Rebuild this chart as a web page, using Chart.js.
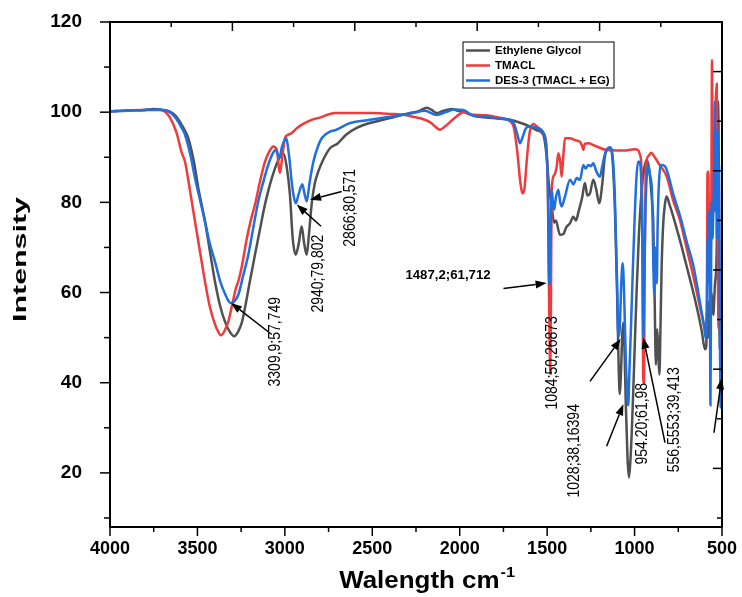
<!DOCTYPE html>
<html>
<head>
<meta charset="utf-8">
<script src="https://cdn.jsdelivr.net/npm/chart.js@4.4.1/dist/chart.umd.min.js"></script>
<style>
  html, body { margin: 0; padding: 0; background: #fff; }
  #wrap { width: 742px; height: 597px; position: relative; }
</style>
</head>
<body>
<div id="wrap"><canvas id="ftir"></canvas></div>
<script>
const FONT = '"Liberation Sans", Arial, Helvetica, sans-serif';

// Ethylene Glycol
const egWave = [4000,3900,3800,3750,3700,3660,3620,3580,3552,3520,3495,3457,3430,3400,3370,3343,3310,3289,3265,3245,3228,3200,3171,3140,3114,3085,3056,3030,3009,2990,2971,2955,2938,2920,2904,2890,2875,2862,2847,2830,2809,2780,2742,2700,2650,2589,2513,2450,2399,2340,2284,2230,2189,2160,2132,2100,2046,2010,1979,1922,1850,1780,1712,1650,1598,1560,1522,1503,1490,1474,1460,1450,1427,1407,1390,1369,1350,1335,1320,1300,1284,1270,1255,1236,1220,1202,1185,1170,1155,1140,1125,1112,1100,1090,1084,1078,1070,1064,1058,1050,1040,1032,1025,1015,1000,988,975,959,945,931,915,900,893,885,878,874,870,864,858,852,845,836,825,817,800,780,740,700,664,640,616,597,590,585,580,575,570,560,550,540,530,525,520,515,510,505,500];
const egInt  = [100.2,100.4,100.5,100.7,100.5,100.2,99,96.5,94.2,89,83.2,75.8,69.5,62.5,57,53.6,51,50.3,51.5,53.5,56.6,62.5,68.4,74.5,79.5,84,87.6,90,90.9,88,81.7,72,68.4,71,74.7,71,68.4,73,79.5,84,86.8,89.5,92,93,95,96.5,97.6,98.2,98.7,99.3,99.8,100.3,101,100.5,99.8,100.2,100.7,100.3,100.1,99.2,98.8,98.6,98.3,97.6,96.8,96,95,90.2,84,79.1,75.5,76,72.8,73,74.5,75.4,76.8,76,78,81,84.3,81.5,82,85,83,79.8,84,90.2,91.8,92,89,78,60,42,37.5,42,51,53.3,48,35,23,19,22,30,47,60.6,73,82.8,87.5,89.4,87,80,75.4,58,44,50,51.8,46,41.8,52,66,75.4,80,81.3,79.5,77,71.5,65.5,60,56,51.5,47.4,48,56,50,58,52,60,55,62,70,102.4,98,55,47,52,48];

// TMACL
const tmWave = [4000,3900,3800,3720,3690,3660,3620,3590,3571,3540,3514,3485,3457,3430,3400,3380,3365,3345,3323,3300,3280,3266,3245,3220,3195,3171,3140,3114,3090,3066,3045,3035,3028,3015,2999,2980,2961,2930,2900,2847,2800,2713,2600,2500,2399,2330,2267,2220,2170,2140,2113,2085,2056,2020,1979,1940,1850,1780,1712,1690,1670,1655,1640,1630,1615,1600,1579,1550,1523,1505,1495,1490,1486,1482,1478,1474,1460,1445,1436,1425,1417,1408,1398,1370,1340,1312,1300,1293,1285,1265,1230,1160,1100,1050,1000,980,969,958,954,950,946,943,935,920,905,893,860,816,780,740,700,664,630,607,597,590,586,583,578,575,570,566,561,557,554,549,544,540,535,530,527,523,519,514,508,504,500];
const tmInt  = [100.2,100.4,100.5,100.5,100.2,99,95.5,91,89,82,75.8,69,62.5,57,53,51.2,50.5,51.5,53.6,57.5,61,62.5,66,71.5,76,79.5,85,89,91.2,92.4,91.5,88,86.5,90,94.3,95,95.4,96.5,97.3,98.3,98.8,99.8,99.8,99.8,99.6,99.5,99,98.6,97.8,96.8,96.1,96.8,97.8,99,100,99.5,99.3,98.8,98,96.5,91,85,82,83,90,95.5,97.4,96.5,95.4,93,80,62,50,42,60,82.8,86,88,90.9,89,85.7,90,94.2,94.2,93.8,93.4,92.5,91.6,93,93.1,92.6,91.6,91.5,91.5,91.8,91.6,90.6,85,62,40,40,60,88,90.3,91,90.5,88.5,85.7,80.5,76,69.5,63.6,57.5,53.3,51.5,50.5,62,86.8,86.8,77,80,72,82,111.6,76,82,88,96,103,106.3,90,62,52,58,50,55,50];

// DES-3 (TMACL + EG)
const desWave = [4000,3900,3800,3720,3680,3657,3620,3590,3571,3540,3514,3485,3457,3430,3400,3370,3340,3320,3308,3290,3266,3240,3209,3180,3152,3120,3095,3070,3052,3040,3033,3015,2993,2975,2961,2950,2938,2920,2900,2888,2875,2860,2837,2810,2789,2742,2713,2627,2513,2399,2300,2267,2200,2132,2080,2030,1979,1922,1850,1780,1712,1690,1670,1655,1640,1620,1598,1560,1522,1505,1495,1490,1487,1482,1477,1474,1467,1460,1450,1436,1425,1417,1400,1369,1350,1331,1312,1293,1280,1265,1250,1236,1220,1207,1198,1185,1170,1160,1141,1125,1112,1100,1093,1085,1076,1068,1060,1050,1040,1036,1030,1020,1010,1000,990,980,973,964,955,950,945,938,930,922,912,900,892,887,882,878,873,868,858,845,826,810,780,740,700,664,640,616,600,595,590,586,582,578,574,570,566,562,558,554,550,546,541,537,533,529,525,521,517,513,508,504,500];
const desInt  = [100.2,100.3,100.5,100.6,100.3,100,98.5,96.5,95,90.5,85.4,80.5,75.8,71,66.9,62.5,59.5,58,57.7,58,59.5,63.5,68.4,74.5,80.2,85,88.3,90.8,91.6,90.5,89.8,92.5,94.2,90,84.6,81.5,79.8,82,84,82,80.2,84,89,92.5,94.2,95.7,96,97.6,98.3,99,99.6,99.8,100.3,99.4,100,100.6,100.5,99.2,99,98.6,98.3,97.5,95,93.1,94.5,96.5,96.8,96.5,95.5,92,82,65,61.7,70,80,82.8,80,78.4,81,82.8,80,79.1,81,85,84,85.4,85,88.3,87.5,88.3,88,88.7,87,86,85.7,88,90.6,91.6,92.2,90,80,62,50.3,52,62,66.5,60,45,36,35,42,53,65,76,85,89,89,87,70,49.9,62,78,86,88.3,86,82,65,59.5,70,68,62,75,86,88.3,88,86.5,82,77,71,66,61,55.5,52,50,50,56,72,62,78,70,35,68,80,72,78,85,102.3,78,90,72,96,75,88,60,34.5,55,50];

const seriesNames  = ['Ethylene Glycol', 'TMACL', 'DES-3 (TMACL + EG)'];
const seriesColors = ['#505050', '#ef3b3b', '#1f6fdf'];

const xTicks = [4000, 3500, 3000, 2500, 2000, 1500, 1000, 500];
const xMinor = [3750, 3250, 2750, 2250, 1750, 1250, 750];
const yTicks = [120, 100, 80, 60, 40, 20];
const yMinor = [110, 90, 70, 50, 30, 10];
const topTicks   = [4000, 3650, 3300, 2950, 2600, 2250, 1900, 1550, 1200, 850, 500];
const rightTicks = [120, 109, 98, 87, 76, 65, 54, 43, 32, 21, 10];

// peak labels: text, wavenumber and intensity at the text centre, rotated or not
const noteText = ['3309,9;57,749', '2940;79,802', '2866;80,571', '1487,2;61,712', '1084;50,26873', '1028;38,16394', '954.20;61,98', '556,5553;39,413'];
const noteWave = [3051, 2805, 2622, 2067, 1469, 1346, 955, 774];
const noteInt  = [49.1, 64.2, 78.8, 63.7, 44.4, 24.9, 30.9, 31.8];
const noteRot  = [true, true, true, false, true, true, true, true];

// arrows: tail -> head
const arrowFrom = [[3075, 50.7], [2793, 74.7], [2675, 82.4], [1750, 60.9], [1255, 40.3], [1160, 25.9], [826, 26.7], [546, 28.9]];
const arrowTo   = [[3308, 57.7], [2932, 79.5], [2856, 80.6], [1503, 62.1], [1080, 49.7], [1064, 35.2], [950, 50], [502, 41]];

const toPoints = (xs, ys) => xs.map((w, i) => ({ x: w, y: ys[i] }));
const spectra = [toPoints(egWave, egInt), toPoints(tmWave, tmInt), toPoints(desWave, desInt)];

const decor = {
  id: 'decor',
  afterDatasetsDraw(chart) {
    const { ctx, chartArea: a, scales: { x, y } } = chart;
    const line = (x1, y1, x2, y2) => { ctx.beginPath(); ctx.moveTo(x1, y1); ctx.lineTo(x2, y2); ctx.stroke(); };
    ctx.save();
    ctx.strokeStyle = '#000';
    ctx.fillStyle = '#000';

    // frame
    ctx.lineWidth = 2;
    ctx.strokeRect(a.left, a.top, a.right - a.left, a.bottom - a.top);

    // tick marks
    ctx.lineWidth = 1.5;
    xTicks.forEach(v => { const p = x.getPixelForValue(v); line(p, a.bottom, p, a.bottom + 9); });
    xMinor.forEach(v => { const p = x.getPixelForValue(v); line(p, a.bottom, p, a.bottom + 5); });
    yTicks.forEach(v => { const p = y.getPixelForValue(v); line(a.left - 10, p, a.left, p); });
    yMinor.forEach(v => { const p = y.getPixelForValue(v); line(a.left - 6, p, a.left, p); });
    topTicks.forEach((v, i) => { const p = x.getPixelForValue(v); line(p, a.top, p, a.top + (i % 2 ? 5 : 9)); });
    rightTicks.forEach((v, i) => { const p = y.getPixelForValue(v); line(a.right, p, a.right - (i % 2 ? 9 : 5), p); });

    // arrows
    arrowFrom.forEach((f, i) => {
      const x1 = x.getPixelForValue(f[0]), y1 = y.getPixelForValue(f[1]);
      const x2 = x.getPixelForValue(arrowTo[i][0]), y2 = y.getPixelForValue(arrowTo[i][1]);
      const ang = Math.atan2(y2 - y1, x2 - x1);
      const len = 11, half = 4;
      const bx = x2 - len * Math.cos(ang), by = y2 - len * Math.sin(ang);
      line(x1, y1, bx, by);
      ctx.beginPath();
      ctx.moveTo(x2, y2);
      ctx.lineTo(bx + half * Math.sin(ang), by - half * Math.cos(ang));
      ctx.lineTo(bx - half * Math.sin(ang), by + half * Math.cos(ang));
      ctx.closePath();
      ctx.fill();
    });

    // peak labels
    ctx.textAlign = 'center';
    ctx.textBaseline = 'middle';
    noteText.forEach((t, i) => {
      const px = x.getPixelForValue(noteWave[i]), py = y.getPixelForValue(noteInt[i]);
      ctx.save();
      ctx.translate(px, py);
      if (noteRot[i]) {
        ctx.rotate(-Math.PI / 2);
        ctx.scale(1, 1.15);
        ctx.font = '14px ' + FONT;
      } else {
        ctx.scale(1.1, 1);
        ctx.font = 'bold 12px ' + FONT;
      }
      ctx.fillText(t, 0, 0);
      ctx.restore();
    });

    // legend
    const lx = a.left + 353, ly = a.top + 20;
    ctx.lineWidth = 1;
    ctx.strokeRect(lx, ly, 151, 46);
    ctx.font = 'bold 11.5px ' + FONT;
    ctx.textAlign = 'left';
    seriesNames.forEach((n, i) => {
      const ry = ly + 8.5 + i * 15;
      ctx.strokeStyle = seriesColors[i];
      ctx.lineWidth = 2.5;
      line(lx + 3, ry, lx + 27, ry);
      ctx.fillText(n, lx + 32, ry + 0.5);
    });

    // axis titles
    ctx.font = 'bold 24px ' + FONT;
    ctx.textAlign = 'center';
    ctx.textBaseline = 'alphabetic';
    const main = 'Walength cm';
    ctx.save();
    ctx.translate((a.left + a.right) / 2 + 12, 588);
    ctx.scale(1.08, 1);
    const mw = ctx.measureText(main).width;
    ctx.fillText(main, -8, 0);
    ctx.font = 'bold 15px ' + FONT;
    ctx.textAlign = 'left';
    ctx.fillText('-1', -8 + mw / 2 + 1, -11);
    ctx.restore();

    ctx.save();
    ctx.font = 'bold 22px ' + FONT;
    ctx.textAlign = 'center';
    ctx.textBaseline = 'middle';
    ctx.translate(21, (a.top + a.bottom) / 2 - 15);
    ctx.rotate(-Math.PI / 2);
    ctx.scale(1.38, 0.85);
    ctx.fillText('Intensity', 0, 0);
    ctx.restore();

    ctx.restore();
  }
};

new Chart(document.getElementById('ftir'), {
  type: 'line',
  data: {
    datasets: spectra.map((pts, i) => ({
      label: seriesNames[i],
      data: pts,
      borderColor: seriesColors[i],
      borderWidth: 2.5,
      pointRadius: 0,
      cubicInterpolationMode: 'monotone',
      order: 2 - i,
    })),
  },
  options: {
    responsive: true,
    maintainAspectRatio: false,
    animation: false,
    layout: { padding: { top: 22, right: 20, left: 0, bottom: 0 }, autoPadding: false },
    plugins: { legend: { display: false }, tooltip: { enabled: false } },
    scales: {
      x: {
        type: 'linear',
        reverse: true,
        min: 500, max: 4000,
        afterBuildTicks: s => { s.ticks = xTicks.map(v => ({ value: v })); },
        afterFit: s => { s.height = 70; s.paddingLeft = 0; s.paddingRight = 0; },
        grid: { display: false, drawTicks: false },
        border: { display: false },
        ticks: { color: '#000', padding: 11, maxRotation: 0, autoSkip: false, callback: v => String(v), font: { family: FONT, size: 18, weight: 'bold' } },
      },
      y: {
        min: 8, max: 120,
        afterBuildTicks: s => { s.ticks = yTicks.map(v => ({ value: v })); },
        afterFit: s => { s.width = 110; s.paddingTop = 0; s.paddingBottom = 0; },
        grid: { display: false, drawTicks: false },
        border: { display: false },
        ticks: { color: '#000', padding: 28, callback: v => String(v), font: { family: FONT, size: 19, weight: 'bold' } },
      },
    },
  },
  plugins: [decor],
});
</script>
</body>
</html>
